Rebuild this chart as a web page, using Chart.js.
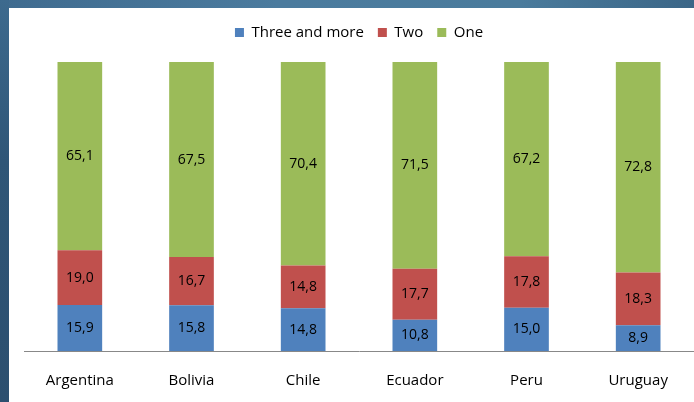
<!DOCTYPE html>
<html>
<head>
<meta charset="utf-8">
<script src="https://cdn.jsdelivr.net/npm/chart.js@4"></script>
<style>
  html, body { margin: 0; padding: 0; width: 694px; height: 402px; overflow: hidden; background: #fff; }
  #topband { position: absolute; left: 0; top: 0; width: 694px; height: 8px; z-index: 2;
    background: linear-gradient(to right, #3f6b8f 0%, #4b7b9e 40%, #4a7b9c 75%, #3b6687 100%); }
  #leftband { position: absolute; left: 0; top: 0; width: 9px; height: 402px; z-index: 2;
    background: linear-gradient(to bottom, #3d6a8e 0%, #2f5677 40%, #2c4f6f 100%); }
  #wrap { position: absolute; left: 9px; top: 8px; width: 685px; height: 398px; }
</style>
</head>
<body>
<div id="topband"></div>
<div id="leftband"></div>
<div id="wrap"><canvas id="c" width="685" height="398"></canvas></div>
<script>
const categories = ["Argentina", "Bolivia", "Chile", "Ecuador", "Peru", "Uruguay"];
const threeAndMore = [15.9, 15.8, 14.8, 10.8, 15.0, 8.9];
const two = [19.0, 16.7, 14.8, 17.7, 17.8, 18.3];
const one = [65.1, 67.5, 70.4, 71.5, 67.2, 72.8];
const seriesNames = ["Three and more", "Two", "One"];

const FONT = "'Open Sans', 'Liberation Sans', sans-serif";

const labelPlugin = {
  id: 'segLabels',
  afterDatasetsDraw(chart) {
    const ctx = chart.ctx;
    ctx.save();
    ctx.font = "14px " + FONT;
    ctx.fillStyle = "#000";
    ctx.textAlign = "center";
    ctx.textBaseline = "middle";
    chart.data.datasets.forEach((ds, i) => {
      const meta = chart.getDatasetMeta(i);
      meta.data.forEach((bar, j) => {
        const p = bar.getCenterPoint();
        ctx.fillText(ds.data[j].toFixed(1).replace('.', ','), p.x, p.y);
      });
    });
    ctx.restore();
  }
};

const legendGap = {
  id: 'legendGap',
  beforeInit(chart) {
    const orig = chart.legend.fit;
    chart.legend.fit = function () {
      orig.bind(chart.legend)();
      this.height += 12;
    };
  }
};

new Chart(document.getElementById('c'), {
  type: 'bar',
  data: {
    labels: categories,
    datasets: [
      { label: seriesNames[0], data: threeAndMore, backgroundColor: '#4f81bd' },
      { label: seriesNames[1], data: two, backgroundColor: '#c0504d' },
      { label: seriesNames[2], data: one, backgroundColor: '#9bbb59' }
    ]
  },
  options: {
    responsive: false,
    animation: false,
    layout: { padding: { left: 15, right: 0, top: 3, bottom: 3 } },
    datasets: { bar: { barPercentage: 0.8, categoryPercentage: 0.5 } },
    plugins: {
      legend: {
        position: 'top',
        labels: { boxWidth: 9, boxHeight: 9, font: { size: 15, family: FONT }, color: '#000', padding: 14 }
      },
      tooltip: { enabled: false }
    },
    scales: {
      x: {
        stacked: true,
        grid: { display: false },
        border: { display: true, color: '#888', width: 1 },
        ticks: { color: '#000', font: { size: 15, family: FONT }, padding: 13 }
      },
      y: {
        stacked: true,
        display: false,
        min: 0, max: 100
      }
    }
  },
  plugins: [labelPlugin, legendGap]
});
</script>
</body>
</html>
